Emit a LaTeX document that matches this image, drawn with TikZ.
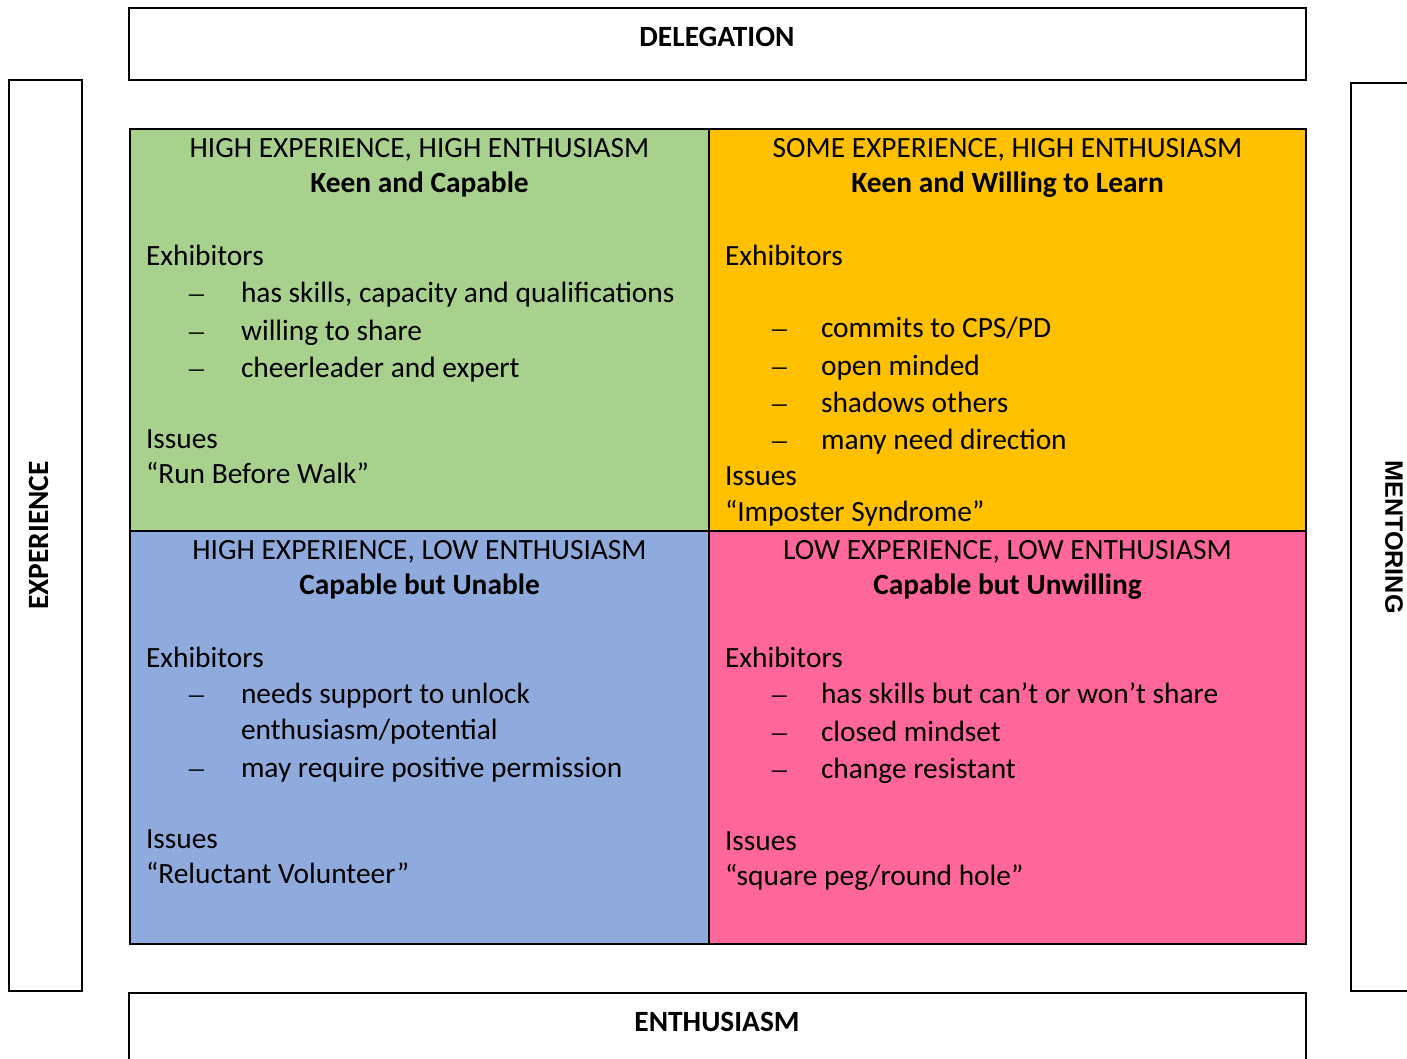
\documentclass[tikz,border=0pt]{standalone}
\usepackage{fontspec}
\setmainfont{Carlito}
\newfontfamily\mentorfont{Liberation Sans}
\newfontfamily\dashfont{Liberation Serif}
\definecolor{keen}{HTML}{A9D18E}
\definecolor{willing}{HTML}{FFC000}
\definecolor{unable}{HTML}{8FAADC}
\definecolor{unwilling}{HTML}{FF6699}
\tikzset{
  txt/.style={anchor=base west,inner sep=0pt,font=\fontsize{14.7}{18}\selectfont},
  dsh/.style={txt,font=\fontsize{14.7}{18}\selectfont\dashfont},
  ttl/.style={anchor=base,inner sep=0pt,font=\fontsize{14.7}{18}\selectfont},
  sub/.style={ttl,font=\fontsize{14.7}{18}\selectfont\bfseries},
  axis/.style={inner sep=0pt,font=\fontsize{14.7}{18}\selectfont\bfseries}
}
\begin{document}
\begin{tikzpicture}[x=0.5pt,y=-0.5pt,line width=1pt]
      \useasboundingbox (0,0) rectangle (1407,1059);
      \begin{scope}
        \clip (0,0) rectangle (1407,1059);
        \draw (129,8) rectangle (1306,80);
        \draw (9,80) rectangle (82,991);
        \draw (1351,83) rectangle (1440,991);
        \draw (129,993) rectangle (1306,1090);
      \end{scope}
      \draw[fill=keen] (130,129) rectangle (709,531);
      \draw[fill=willing] (709,129) rectangle (1306,531);
      \draw[fill=unable] (130,531) rectangle (709,944);
      \draw[fill=unwilling] (709,531) rectangle (1306,944);
      \path
        (717,47) node[axis,anchor=base] (deleg){DELEGATION}
        (717,1031) node[axis,anchor=base] (enth){ENTHUSIASM}
        (38.5,535.5) node[axis,rotate=90] (exp){EXPERIENCE}
        (1394,537) node[axis,rotate=-90,font=\fontsize{12.6}{15}\selectfont\mentorfont\bfseries] (ment){MENTORING};
      \path
        (419.5,158) node[ttl] (hh-t){HIGH EXPERIENCE, HIGH ENTHUSIASM}
        (419.5,193) node[sub] (hh-s){Keen and Capable}
        (145,265) node[txt] (hh-ex){Exhibitors}
        (188,302) node[dsh] (hh-d1){–}
        (240,302) node[txt] (hh-1){has skills, capacity and qualifications}
        (188,340) node[dsh] (hh-d2){–}
        (240,340) node[txt] (hh-2){willing to share}
        (188,377) node[dsh] (hh-d3){–}
        (240,377) node[txt] (hh-3){cheerleader and expert}
        (145,448) node[txt] (hh-is){Issues}
        (145,483) node[txt] (hh-q){“Run Before Walk”};
      \path
        (1007.5,158) node[ttl] (sh-t){SOME EXPERIENCE, HIGH ENTHUSIASM}
        (1007.5,193) node[sub] (sh-s){Keen and Willing to Learn}
        (724,265) node[txt] (sh-ex){Exhibitors}
        (771,337) node[dsh] (sh-d1){–}
        (820,337) node[txt] (sh-1){commits to CPS/PD}
        (771,375) node[dsh] (sh-d2){–}
        (820,375) node[txt] (sh-2){open minded}
        (771,412) node[dsh] (sh-d3){–}
        (820,412) node[txt] (sh-3){shadows others}
        (771,449) node[dsh] (sh-d4){–}
        (820,449) node[txt] (sh-4){many need direction}
        (724,485) node[txt] (sh-is){Issues}
        (724,521) node[txt] (sh-q){“Imposter Syndrome”};
      \path
        (419.5,559) node[ttl] (hl-t){HIGH EXPERIENCE, LOW ENTHUSIASM}
        (419.5,594) node[sub] (hl-s){Capable but Unable}
        (145,667) node[txt] (hl-ex){Exhibitors}
        (188,703) node[dsh] (hl-d1){–}
        (240,703) node[txt] (hl-1){needs support to unlock}
        (240,739) node[txt] (hl-1b){enthusiasm/potential}
        (188,777) node[dsh] (hl-d2){–}
        (240,777) node[txt] (hl-2){may require positive permission}
        (145,848) node[txt] (hl-is){Issues}
        (145,883) node[txt] (hl-q){“Reluctant Volunteer”};
      \path
        (1007.5,559) node[ttl] (ll-t){LOW EXPERIENCE, LOW ENTHUSIASM}
        (1007.5,594) node[sub] (ll-s){Capable but Unwilling}
        (724,667) node[txt] (ll-ex){Exhibitors}
        (771,703) node[dsh] (ll-d1){–}
        (820,703) node[txt] (ll-1){has skills but can’t or won’t share}
        (771,741) node[dsh] (ll-d2){–}
        (820,741) node[txt] (ll-2){closed mindset}
        (771,778) node[dsh] (ll-d3){–}
        (820,778) node[txt] (ll-3){change resistant}
        (724,850) node[txt] (ll-is){Issues}
        (724,885) node[txt] (ll-q){“square peg/round hole”};
    \end{tikzpicture}
\end{document}
